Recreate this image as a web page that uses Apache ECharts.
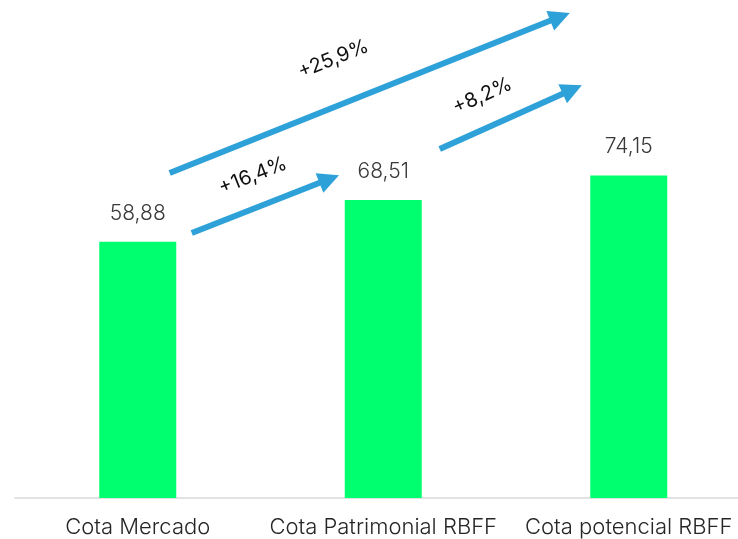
<!DOCTYPE html>
<html><head><meta charset="utf-8">
<script src="https://cdn.jsdelivr.net/npm/echarts@6/dist/echarts.min.js"></script>
<style>html,body{margin:0;padding:0;background:#fff}#c{width:738px;height:539px}</style>
</head><body><div id="c"></div>
<script>
const categories = ['Cota Mercado', 'Cota Patrimonial RBFF', 'Cota potencial RBFF'];
const values = [58.88, 68.51, 74.15];
// growth arrows (x in category-index units, y in value units)
const arrowLabels = ['+25,9%', '+16,4%', '+8,2%'];
const arrowStartX = [0.13, 0.22, 1.23];
const arrowStartY = [74.7, 60.9, 80.2];
const arrowEndX = [1.72, 0.78, 1.77];
const arrowEndY = [110.6, 73.3, 93.9];

// label placement along each arrow (layout, not data)
const LABEL_LAYOUT = [
  {distance: 35, padding: [0, 32, 0, 0]},
  {distance: 21, padding: [0, 0, 0, 8]},
  {distance: 21, padding: [0, 24, 0, 0]}
];

const FONT = 'Inter';
const chart = echarts.init(document.getElementById('c'), null, {renderer: 'canvas'});
const arrowData = arrowLabels.map((lab, i) => [
  {coord: [arrowStartX[i], arrowStartY[i]], name: lab, label: LABEL_LAYOUT[i]},
  {coord: [arrowEndX[i], arrowEndY[i]]}
]);
chart.setOption({
  animation: false,
  backgroundColor: '#ffffff',
  grid: {left: 15, right: -13.5, top: 2, bottom: 41, containLabel: false, outerBoundsMode: 'none'},
  xAxis: [{
    type: 'category', data: categories,
    axisLine: {show: true, lineStyle: {color: '#d9d9d9', width: 1.5}},
    axisTick: {show: false},
    axisLabel: {interval: 0, hideOverlap: false, fontFamily: FONT, fontSize: 22, fontWeight: 300, color: '#262626', margin: 18}
  }, {
    type: 'value', min: -0.5, max: 2.5, show: false
  }],
  yAxis: {type: 'value', min: 0, max: 114, show: false, splitLine: {show: false}},
  series: [{
    type: 'bar', data: values, barWidth: 77,
    itemStyle: {color: '#00FF6E'},
    label: {
      show: true, position: 'top', distance: 18,
      fontFamily: FONT, fontSize: 21, fontWeight: 300, color: '#3a3a3a',
      formatter: p => String(p.value).replace('.', ',')
    }
  }, {
    type: 'scatter', xAxisIndex: 1, data: [], silent: true,
    markLine: {
      silent: true,
      symbol: ['none', 'triangle'],
      symbolSize: 21,
      lineStyle: {color: '#2EA2D8', width: 6, type: 'solid'},
      label: {
        show: true, position: 'middle', formatter: '{b}',
        fontFamily: FONT, fontSize: 20, fontWeight: 400, color: '#111',
        distance: 24, padding: [0, 40, 0, 0]
      },
      data: arrowData
    }
  }]
});
</script></body></html>
